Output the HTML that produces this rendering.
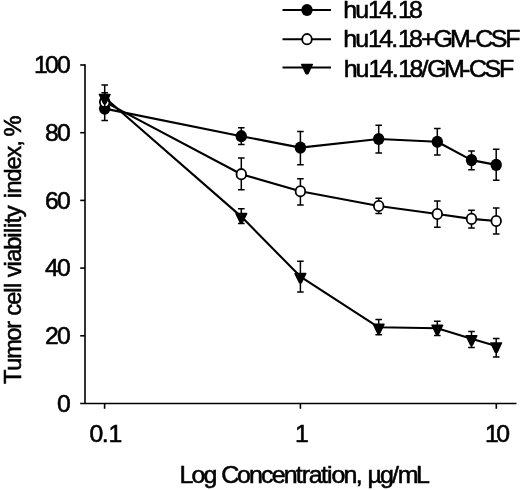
<!DOCTYPE html>
<html><head><meta charset="utf-8"><title>chart</title>
<style>html,body{margin:0;padding:0;background:#fff}
.t{font-family:"Liberation Sans",Arial,sans-serif;fill:#000;stroke:#000;stroke-width:0.55px;font-kerning:none}
</style></head><body>
<svg width="520" height="490" viewBox="0 0 520 490" style="display:block">
<rect width="520" height="490" fill="#fff"/>
<g stroke="#000" stroke-width="1.6" fill="none">
<path d="M85.0 64.2 V403.5 M80.2 403.5 H516.5"/>
<path d="M80.2 335.8 H85.0"/>
<path d="M80.2 268.1 H85.0"/>
<path d="M80.2 200.4 H85.0"/>
<path d="M80.2 132.7 H85.0"/>
<path d="M80.2 65.0 H85.0"/>
<path d="M104.6 403.5 V408.8"/>
<path d="M300.4 403.5 V408.8"/>
<path d="M496.3 403.5 V408.8"/>
</g>
<polyline points="104.7,108.6 241.3,136.2 300.4,147.6 378.7,139.0 437.3,141.8 471.5,160.1 496.2,164.9" fill="none" stroke="#000" stroke-width="2.1" stroke-linejoin="round"/>
<path d="M104.7 96.7 V120.5 M101.4 96.7 h6.6 M101.4 120.5 h6.6 M241.3 127.7 V144.4 M238.0 127.7 h6.6 M238.0 144.4 h6.6 M300.4 131.5 V164.8 M297.1 131.5 h6.6 M297.1 164.8 h6.6 M378.7 125.2 V152.9 M375.4 125.2 h6.6 M375.4 152.9 h6.6 M437.3 128.6 V155.1 M434.0 128.6 h6.6 M434.0 155.1 h6.6 M471.5 151.1 V169.7 M468.2 151.1 h6.6 M468.2 169.7 h6.6 M496.2 149.3 V180.3 M492.9 149.3 h6.6 M492.9 180.3 h6.6" stroke="#000" stroke-width="1.5" fill="none"/>
<ellipse cx="104.7" cy="108.6" rx="5.7" ry="6.1" fill="#000"/>
<ellipse cx="241.3" cy="136.2" rx="5.7" ry="6.1" fill="#000"/>
<ellipse cx="300.4" cy="147.6" rx="5.7" ry="6.1" fill="#000"/>
<ellipse cx="378.7" cy="139.0" rx="5.7" ry="6.1" fill="#000"/>
<ellipse cx="437.3" cy="141.8" rx="5.7" ry="6.1" fill="#000"/>
<ellipse cx="471.5" cy="160.1" rx="5.7" ry="6.1" fill="#000"/>
<ellipse cx="496.2" cy="164.9" rx="5.7" ry="6.1" fill="#000"/>
<polyline points="104.7,101.9 241.3,174.2 300.4,191.3 378.7,206.0 437.3,214.0 471.5,218.9 496.2,221.0" fill="none" stroke="#000" stroke-width="2.1" stroke-linejoin="round"/>
<path d="M104.7 92.8 V110.2 M101.4 92.8 h6.6 M101.4 110.2 h6.6 M241.3 157.9 V189.7 M238.0 157.9 h6.6 M238.0 189.7 h6.6 M300.4 178.8 V205.0 M297.1 178.8 h6.6 M297.1 205.0 h6.6 M378.7 198.2 V213.6 M375.4 198.2 h6.6 M375.4 213.6 h6.6 M437.3 201.0 V227.2 M434.0 201.0 h6.6 M434.0 227.2 h6.6 M471.5 210.3 V228.0 M468.2 210.3 h6.6 M468.2 228.0 h6.6 M496.2 208.1 V234.1 M492.9 208.1 h6.6 M492.9 234.1 h6.6" stroke="#000" stroke-width="1.5" fill="none"/>
<ellipse cx="104.7" cy="101.9" rx="4.8" ry="5.2" fill="#fff" stroke="#000" stroke-width="1.8"/>
<ellipse cx="241.3" cy="174.2" rx="4.8" ry="5.2" fill="#fff" stroke="#000" stroke-width="1.8"/>
<ellipse cx="300.4" cy="191.3" rx="4.8" ry="5.2" fill="#fff" stroke="#000" stroke-width="1.8"/>
<ellipse cx="378.7" cy="206.0" rx="4.8" ry="5.2" fill="#fff" stroke="#000" stroke-width="1.8"/>
<ellipse cx="437.3" cy="214.0" rx="4.8" ry="5.2" fill="#fff" stroke="#000" stroke-width="1.8"/>
<ellipse cx="471.5" cy="218.9" rx="4.8" ry="5.2" fill="#fff" stroke="#000" stroke-width="1.8"/>
<ellipse cx="496.2" cy="221.0" rx="4.8" ry="5.2" fill="#fff" stroke="#000" stroke-width="1.8"/>
<polyline points="104.7,97.5 241.3,216.6 300.4,276.6 378.7,327.3 437.3,328.2 471.5,338.8 496.2,346.0" fill="none" stroke="#000" stroke-width="2.1" stroke-linejoin="round"/>
<path d="M104.7 84.9 V109.5 M101.4 84.9 h6.6 M101.4 109.5 h6.6 M241.3 208.8 V223.5 M238.0 208.8 h6.6 M238.0 223.5 h6.6 M300.4 261.3 V292.0 M297.1 261.3 h6.6 M297.1 292.0 h6.6 M378.7 319.4 V334.8 M375.4 319.4 h6.6 M375.4 334.8 h6.6 M437.3 321.3 V335.6 M434.0 321.3 h6.6 M434.0 335.6 h6.6 M471.5 331.6 V347.6 M468.2 331.6 h6.6 M468.2 347.6 h6.6 M496.2 338.5 V357.1 M492.9 338.5 h6.6 M492.9 357.1 h6.6" stroke="#000" stroke-width="1.5" fill="none"/>
<path d="M99.4 94.5 h10.6 L105.6 103.7 h-1.8z" fill="#000" stroke="#000" stroke-width="1.5" stroke-linejoin="round"/>
<path d="M236.0 213.6 h10.6 L242.2 222.8 h-1.8z" fill="#000" stroke="#000" stroke-width="1.5" stroke-linejoin="round"/>
<path d="M295.1 273.6 h10.6 L301.3 282.8 h-1.8z" fill="#000" stroke="#000" stroke-width="1.5" stroke-linejoin="round"/>
<path d="M373.4 324.3 h10.6 L379.6 333.5 h-1.8z" fill="#000" stroke="#000" stroke-width="1.5" stroke-linejoin="round"/>
<path d="M432.0 325.2 h10.6 L438.2 334.4 h-1.8z" fill="#000" stroke="#000" stroke-width="1.5" stroke-linejoin="round"/>
<path d="M466.2 335.8 h10.6 L472.4 345.0 h-1.8z" fill="#000" stroke="#000" stroke-width="1.5" stroke-linejoin="round"/>
<path d="M490.9 343.0 h10.6 L497.1 352.2 h-1.8z" fill="#000" stroke="#000" stroke-width="1.5" stroke-linejoin="round"/>
<path d="M282.5 10 H331" stroke="#000" stroke-width="2.1"/>
<ellipse cx="307.0" cy="10.0" rx="5.7" ry="6.1" fill="#000"/>
<text transform="translate(343.60 18.3) scale(1.05 1)" x="-0.32 11.07 23.32 33.85 45.39 51.78 62.31" font-size="23.8" class="t">hu14.18</text>
<path d="M282.5 39.25 H331" stroke="#000" stroke-width="2.1"/>
<ellipse cx="307.0" cy="39.2" rx="4.8" ry="5.2" fill="#fff" stroke="#000" stroke-width="1.8"/>
<text transform="translate(343.60 47.4) scale(1.05 1)" x="-0.32 11.07 23.32 33.85 45.39 51.78 62.31 73.69 85.53 101.43 118.77 125.37 140.19 153.88" font-size="23.8" class="t">hu14.18+GM-CSF</text>
<path d="M282.5 67.5 H331" stroke="#000" stroke-width="2.1"/>
<path d="M301.7 64.5 h10.6 L307.9 73.7 h-1.8z" fill="#000" stroke="#000" stroke-width="1.5" stroke-linejoin="round"/>
<text transform="translate(344.00 76.5) scale(1.05 1)" x="-0.32 11.07 23.32 33.85 45.39 51.78 62.31 73.86 79.26 95.16 112.50 119.10 133.92 147.61" font-size="23.8" class="t">hu14.18/GM-CSF</text>
<text transform="translate(57.31 411.7) scale(1.05 1)" x="-0.31" font-size="23.6" class="t">0</text>
<text transform="translate(45.36 344.0) scale(1.05 1)" x="-0.31 11.08" font-size="23.6" class="t">20</text>
<text transform="translate(45.36 276.3) scale(1.05 1)" x="-0.31 11.08" font-size="23.6" class="t">40</text>
<text transform="translate(45.36 208.6) scale(1.05 1)" x="-0.31 11.08" font-size="23.6" class="t">60</text>
<text transform="translate(45.36 140.89999999999998) scale(1.05 1)" x="-0.31 11.08" font-size="23.6" class="t">80</text>
<text transform="translate(33.40 73.2) scale(1.05 1)" x="0.54 11.08 22.46" font-size="23.6" class="t">100</text>
<text transform="translate(89.94 442.3) scale(1.05 1)" x="-0.31 11.23 17.62" font-size="23.6" class="t">0.1</text>
<text transform="translate(294.50 442.3) scale(1.05 1)" x="0.54" font-size="23.6" class="t">1</text>
<text transform="translate(484.55 442.3) scale(1.05 1)" x="0.54 11.08" font-size="23.6" class="t">10</text>
<text transform="translate(179.78 483.0) scale(1.05 1)" x="-0.32 11.10 22.51 34.09 39.54 54.45 65.87 77.31 87.54 98.96 110.53 116.20 122.91 134.48 140.21 144.58 156.00 167.57 173.27 178.81 190.64 202.21 207.60 224.86" font-size="23.8" class="t">Log Concentration, µg/mL</text>
<text transform="translate(20.5 383.93) rotate(-90) scale(1.0 1)" x="0.00 13.18 25.17 43.14 55.14 62.32 68.31 79.10 91.09 95.89 100.68 106.67 117.46 122.25 134.24 146.24 151.03 155.82 160.62 166.61 177.39 185.59 190.38 202.38 214.37 226.37 237.15 241.35 247.34" font-size="23.6" class="t">Tumor cell viability index, %</text>
</svg>
</body></html>
